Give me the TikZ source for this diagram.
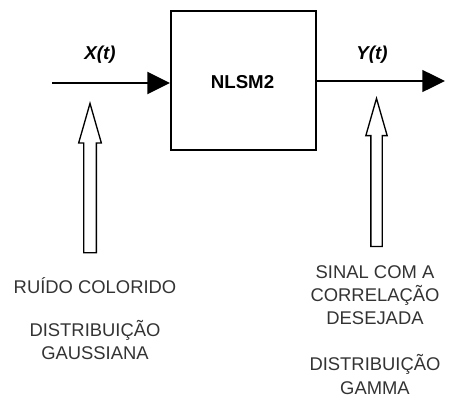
\documentclass[tikz,border=0pt]{standalone}
\usepackage{fontspec}
\setmainfont{Liberation Sans}
\usetikzlibrary{arrows.meta,positioning,shapes.arrows}
\definecolor{noteInk}{HTML}{333333}
\tikzset{
  sysbox/.style={draw, line width=1.5pt, minimum width=108.75pt,
    minimum height=104.25pt, inner sep=0pt,
    font=\fontsize{14}{17}\selectfont\bfseries},
  siglabel/.style={font=\fontsize{14}{17}\selectfont\bfseries\itshape, inner sep=0pt},
  notetext/.style={font=\fontsize{13.8}{17.25}\selectfont, text=noteInk,
    align=center, inner sep=0pt},
  arc/.style={-{Triangle[length=17pt, width=16.5pt]}, line width=1.5pt},
  hollowArc/.style={single arrow, draw, line width=1pt, shape border rotate=90,
    minimum height=112pt, inner sep=4.25pt, single arrow head extend=3.75pt,
    single arrow tip angle=32, anchor=tip},
}

\begin{document}
\begin{tikzpicture}[x=0.75pt, y=-0.75pt]
    \useasboundingbox (0,0) rectangle (450,397);
    \node[sysbox] (nlsm) at (243.5,80.5) {};
    \node[font=\fontsize{14}{17}\selectfont\bfseries, anchor=base] (nlsmtxt) at (242.5,88.3) {NLSM2};
    \coordinate (xin) at (52,83);
    \coordinate (yout) at (445,81);
    \draw[arc] (xin) -- (xin -| nlsm.west);
    \draw[arc, line width=1pt] (nlsm.east |- yout) -- (yout);
    \node[siglabel, anchor=base] (xlab) at (100,59) {X(t)};
    \node[siglabel, anchor=base] (ylab) at (372,59) {Y(t)};
    % entrada e saida
    \node[hollowArc] (noiseArrow) at (90,101) {};
    \node[hollowArc, minimum height=111pt, inner sep=3.75pt] (corrArrow) at (376.5,96) {};
    \node[notetext, anchor=base] (noise) at (95,293.7) {RUÍDO COLORIDO};
    \node[notetext, anchor=base] (gauss) at (95,359.3) {DISTRIBUIÇÃO\\GAUSSIANA};
    \node[notetext, anchor=base] (corr) at (375,324) {SINAL COM A\\CORRELAÇÃO\\DESEJADA};
    \node[notetext, anchor=base, font=\fontsize{13.8}{18}\selectfont] (gamma) at (375,394.5) {DISTRIBUIÇÃO\\GAMMA};
  \end{tikzpicture}
\end{document}
